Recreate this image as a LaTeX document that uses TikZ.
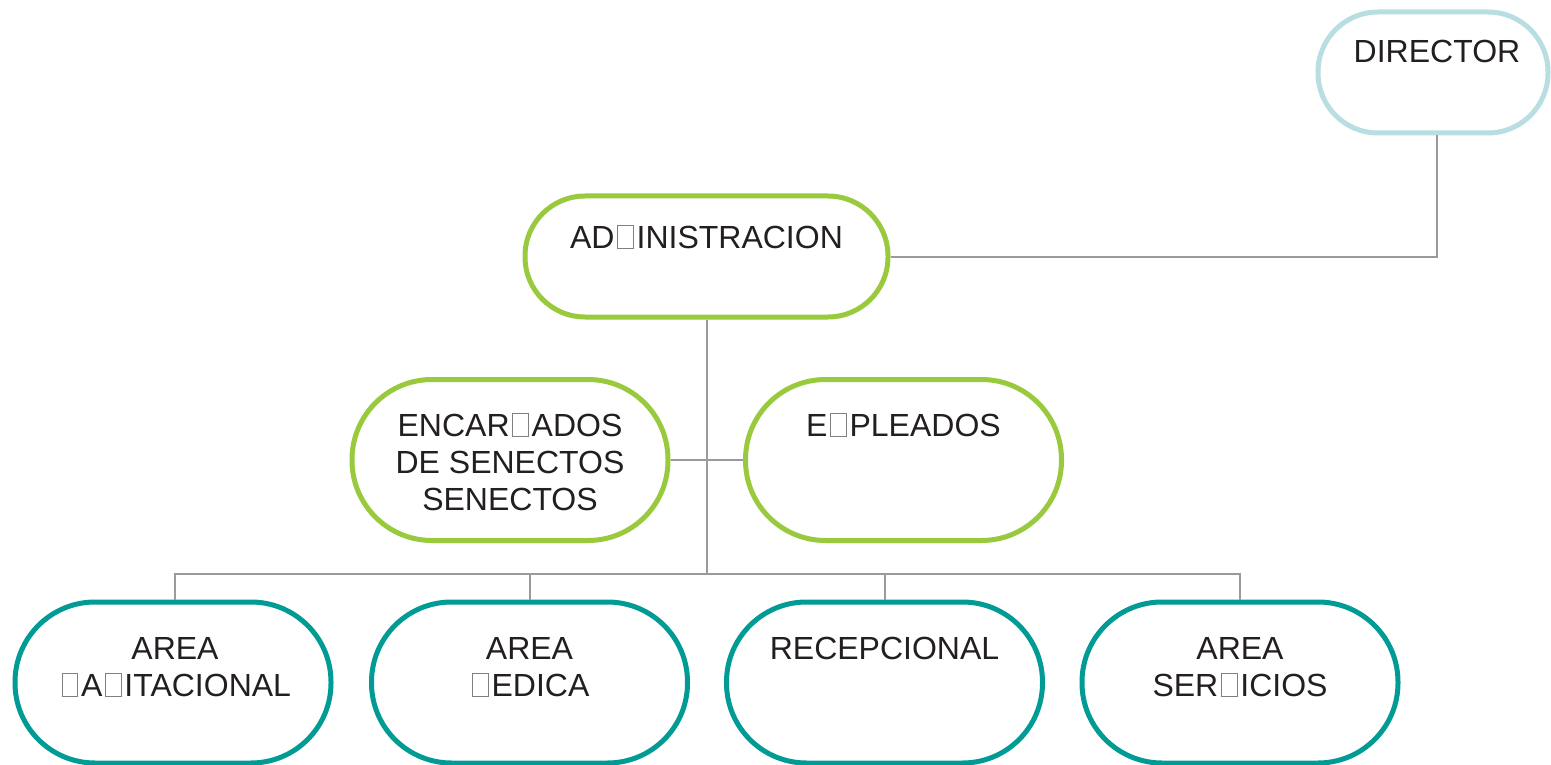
\documentclass[tikz,border=0pt]{standalone}
\usepackage{fontspec}
\setmainfont{Liberation Sans}
\definecolor{lgreen}{HTML}{99C93C}
\definecolor{teal2}{HTML}{009B94}
\definecolor{lblue}{HTML}{B8DEE2}
\definecolor{lgray}{HTML}{9A9A9E}
\definecolor{boxgray}{HTML}{808080}
\definecolor{ink}{HTML}{231F20}
\newcommand\nogl{\hspace{0.08em}{\color{boxgray}\setlength{\fboxrule}{1.1pt}\setlength{\fboxsep}{0pt}\fbox{\rule{0pt}{0.68em}\hspace{0.46em}}}\hspace{0.08em}}
\tikzset{
  pill/.style={draw, line width=5pt, fill=white, rectangle, rounded corners=#1, inner sep=0pt},
  greenbox/.style={pill=80pt, draw=lgreen, minimum width=316pt, minimum height=161pt},
  tealbox/.style={pill=80pt, draw=teal2, minimum width=316pt, minimum height=161pt},
  label/.style={anchor=north, align=center, inner sep=0pt, font=\fontsize{32}{37}\selectfont, text=ink},
  conn/.style={draw=lgray, line width=2pt},
}
\begin{document}
\begin{tikzpicture}[x=1pt,y=-1pt]
\useasboundingbox (0,0) rectangle (1551,765);
\node[pill=60pt, draw=lblue, minimum width=230pt, minimum height=121pt] (dir) at (1433,72.5) {};
\node[pill=60pt, draw=lgreen, minimum width=363pt, minimum height=121pt] (adm) at (706.5,256.5) {};
\node[greenbox] (enc) at (510,460) {};
\node[greenbox] (emp) at (903.5,460) {};
\node[tealbox] (b1) at (173,682.5) {};
\node[tealbox] (b2) at (529.5,682.5) {};
\node[tealbox] (b3) at (884.5,682.5) {};
\node[tealbox] (b4) at (1240,682.5) {};
\coordinate (bus) at (706.5,574);
\draw[conn] ([xshift=4pt]dir.south) |- (adm.east);
\draw[conn] (adm.south) -- (bus);
\draw[conn] (enc.east) -- (emp.west);
\draw[conn] ([xshift=2pt]b1.north) -- ([xshift=2pt]b1.north |- bus) -- (b4.north |- bus) -- (b4.north);
\draw[conn] (b2.north) -- (b2.north |- bus);
\draw[conn] (b3.north) -- (b3.north |- bus);
% texts
\node[label] (dirT) at (1437,40) {DIRECTOR};
\node[label] (admT) at (706.5,225) {AD\nogl INISTRACION};
\node[label] (encT) at (510,413) {ENCAR\nogl ADOS\\DE SENECTOS\\SENECTOS};
\node[label] (empT) at (903.5,413) {E\nogl PLEADOS};
\node[label] (b1T) at (175,637) {AREA\\\nogl A\nogl ITACIONAL};
\node[label] (b2T) at (529.5,637) {AREA\\\nogl EDICA};
\node[label] (b3T) at (884.5,637) {RECEPCIONAL};
\node[label] (b4T) at (1240,637) {AREA\\SER\nogl ICIOS};
\end{tikzpicture}
\end{document}
